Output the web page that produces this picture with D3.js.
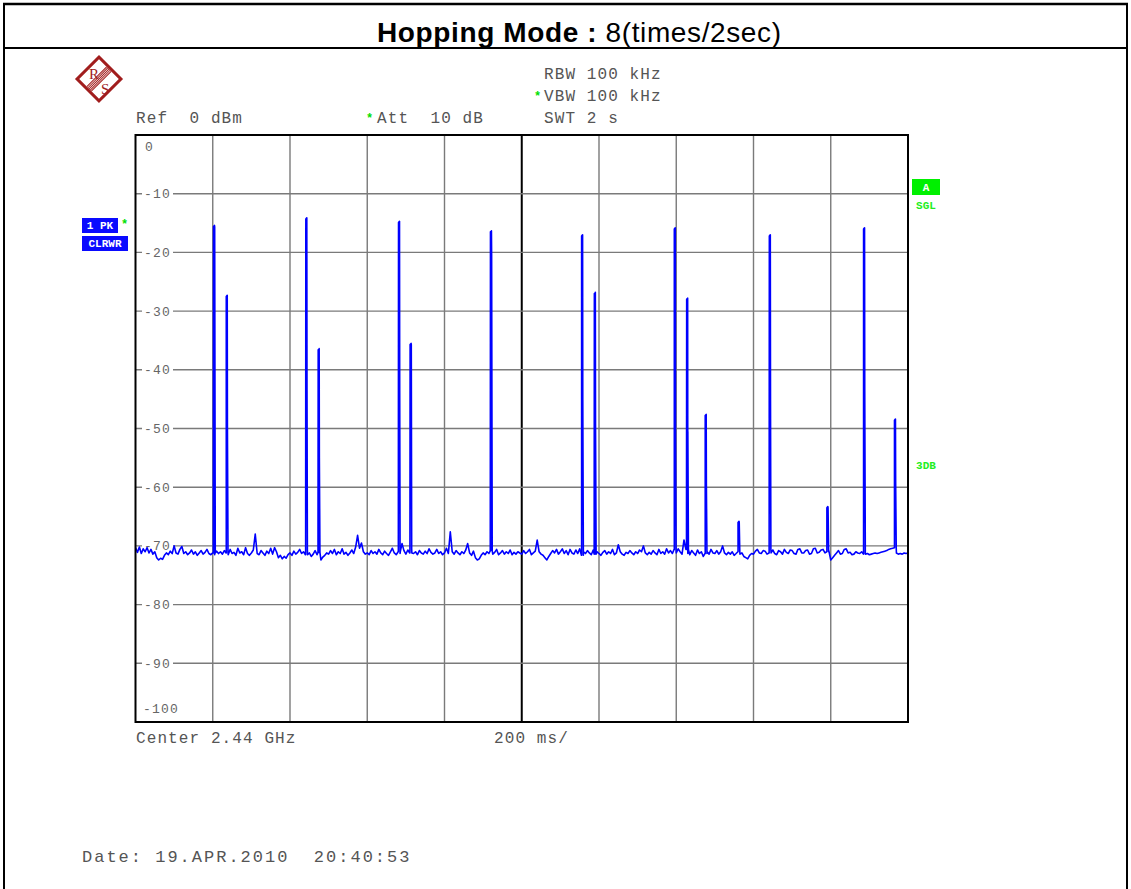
<!DOCTYPE html>
<html>
<head>
<meta charset="utf-8">
<script src="https://cdn.jsdelivr.net/npm/d3@7/dist/d3.min.js"></script>
<style>
body{margin:0;background:#fff;}
svg{display:block;}
</style>
</head>
<body>
<div id="chart"></div>
<script>
// sweep axis (ms) and level axis (dBm)
var sweepMs = [0, 2000];
var levelDb = [-100, 0];

// noise floor, one reading every 5 ms (one row = 100 ms)
var noiseStepMs = 5;
var noiseDb = [
    -70.3, -71.1, -70.2, -71.3, -70.5, -71.0, -70.3, -71.2, -70.6, -71.4, -71.0, -72.0, -72.4, -72.1, -72.3, -71.6, -71.2, -71.5, -70.9, -71.3,
    -70.0, -71.2, -71.4, -70.6, -70.1, -71.3, -71.0, -71.5, -71.2, -70.7, -71.4, -71.0, -71.6, -71.2, -70.8, -71.4, -71.1, -70.6, -71.3, -71.5,
    -71.2, -71.5, -70.9, -71.3, -71.0, -71.4, -70.8, -71.2, -71.5, -70.6, -71.3, -71.1, -71.6, -70.4, -71.2, -71.0, -71.5, -70.3, -71.3, -71.6,
    -71.2, -70.7, -68.0, -71.3, -71.5, -70.8, -71.2, -71.6, -70.9, -71.3, -70.4, -71.4, -70.3, -71.0, -72.0, -71.6, -72.2, -71.8, -72.1, -71.5,
    -71.2, -71.6, -70.9, -71.4, -71.1, -70.6, -71.3, -71.0, -71.5, -70.7, -71.2, -71.8, -71.4, -70.8, -71.5, -71.1, -72.4, -71.9, -71.6, -71.2,
    -71.4, -70.8, -71.3, -70.6, -71.5, -71.0, -71.3, -70.5, -71.4, -71.1, -71.6, -71.2, -70.7, -71.3, -70.2, -68.2, -70.4, -69.5, -71.0, -71.4,
    -71.2, -71.5, -70.8, -71.3, -71.0, -71.4, -70.6, -71.2, -71.5, -70.9, -71.3, -71.6, -71.0, -70.4, -71.2, -71.5, -71.0, -71.3, -69.6, -70.8,
    -71.4, -70.7, -71.2, -70.5, -71.3, -71.0, -71.5, -70.8, -71.2, -71.4, -70.9, -71.3, -70.5, -71.1, -71.4, -71.2, -70.6, -71.3, -71.0, -71.5,
    -71.2, -70.4, -71.3, -67.6, -71.0, -71.4, -70.8, -71.2, -71.5, -71.0, -71.3, -70.7, -69.6, -71.2, -71.6, -70.9, -72.0, -72.4, -72.2, -71.6,
    -71.2, -71.5, -71.0, -71.3, -70.8, -71.4, -71.1, -70.6, -71.5, -71.2, -70.8, -71.4, -71.0, -71.3, -70.7, -71.5, -71.1, -71.4, -71.0, -71.2,
    -71.4, -70.8, -71.3, -71.0, -70.6, -71.5, -71.2, -70.9, -69.0, -71.0, -71.4, -71.6, -72.0, -72.4, -71.8, -71.3, -70.8, -71.2, -70.6, -71.4,
    -71.0, -70.5, -71.3, -70.8, -71.5, -70.6, -71.2, -71.4, -70.7, -71.3, -70.5, -71.6, -71.0, -71.3, -70.8, -71.2, -71.5, -70.7, -71.4, -71.0,
    -71.3, -71.6, -71.1, -70.8, -71.4, -71.0, -71.3, -70.6, -71.5, -71.2, -69.8, -71.0, -71.4, -71.6, -71.1, -71.3, -70.8, -71.2, -71.5, -71.0,
    -71.3, -70.7, -71.0, -70.0, -71.2, -71.5, -71.1, -71.4, -70.8, -71.2, -71.5, -70.6, -71.3, -71.0, -71.4, -70.5, -71.2, -70.8, -71.3, -70.6,
    -71.2, -70.5, -71.0, -71.4, -69.0, -70.6, -71.3, -71.5, -70.8, -71.2, -71.6, -70.7, -71.3, -71.0, -71.8, -71.3, -71.0, -71.4, -70.6, -71.2,
    -71.3, -70.8, -71.4, -71.0, -70.0, -71.2, -71.5, -71.1, -71.4, -71.0, -71.6, -71.3, -71.0, -71.4, -71.2, -71.8, -72.0, -72.2, -71.6, -71.3,
    -71.4, -70.9, -70.6, -71.2, -71.3, -70.8, -70.9, -71.4, -71.2, -70.6, -70.7, -71.3, -71.5, -70.8, -71.0, -71.4, -70.6, -71.1, -71.3, -70.7,
    -70.8, -71.3, -71.4, -70.6, -70.5, -71.2, -71.2, -70.8, -70.7, -71.4, -71.3, -70.5, -70.4, -71.2, -71.1, -70.7, -70.6, -71.2, -71.0, -70.8,
    -72.4, -72.0, -71.6, -71.2, -70.8, -71.4, -71.3, -70.6, -70.5, -71.2, -71.1, -71.5, -71.4, -71.0, -71.2, -71.3, -71.0, -71.4, -71.4, -71.3,
    -71.5, -71.4, -71.3, -71.2, -71.3, -71.2, -71.1, -71.0, -70.9, -70.8, -70.6, -70.5, -70.4, -70.3, -71.2, -71.4, -71.3, -71.4, -71.2, -71.3,
    -71.2
];

// hop bursts: time, peak level, lower step level (null = none)
var hopTimeMs = [202, 235, 441, 473, 681, 711, 919, 1155, 1188, 1395, 1427, 1475, 1560, 1641, 1790, 1885, 1965];
var hopPeakDb = [-15.6, -27.5, -14.3, -36.6, -14.9, -35.7, -16.5, -17.2, -27.0, -16.0, -28.0, -47.8, -66.0, -17.2, -63.5, -16.0, -48.6];
var hopStepDb = [null, -50.0, -43.5, -55.0, -43.3, null, -20.4, -45.1, -49.2, -50.0, -50.5, -59.5, null, -45.0, null, -43.6, -59.0];

var titleBold = "Hopping Mode : ";
var titleRest = "8(times/2sec)";
var headerLeft = "Ref  0 dBm";
var headerMid = "Att  10 dB";
var headerRight = ["RBW 100 kHz", "VBW 100 kHz", "SWT 2 s"];
var footerLeft = "Center 2.44 GHz";
var footerMid = "200 ms/";
var dateText = "Date: 19.APR.2010  20:40:53";

var W = 1131, H = 889;
var mono = "'Courier New','Liberation Mono',monospace";
var plot = {l: 135.5, r: 908, t: 135, b: 722};

var svg = d3.select("#chart").append("svg")
    .attr("width", W).attr("height", H)
    .attr("xmlns", "http://www.w3.org/2000/svg");

// page frame + title row
var frame = svg.append("g").attr("stroke", "#000").attr("stroke-width", 2);
frame.append("line").attr("x1", 3).attr("x2", 1128).attr("y1", 4).attr("y2", 4).attr("stroke-width", 2.5);
frame.append("line").attr("x1", 3).attr("x2", 1128).attr("y1", 48).attr("y2", 48);
frame.append("line").attr("x1", 4).attr("x2", 4).attr("y1", 3).attr("y2", H);
frame.append("line").attr("x1", 1127).attr("x2", 1127).attr("y1", 3).attr("y2", H);

var title = svg.append("text")
    .attr("x", 377).attr("y", 42)
    .attr("textLength", 404).attr("lengthAdjust", "spacing")
    .style("font-family", "'Liberation Sans',Arial,sans-serif")
    .style("font-size", "28px");
title.append("tspan").style("font-weight", "bold").text(titleBold);
title.append("tspan").text(titleRest);

// R&S logo
var logoRed = "#a11d1d";
var logo = svg.append("g").attr("transform", "translate(99,79)");
var logoSq = logo.append("g").attr("transform", "rotate(-45)");
logoSq.append("rect")
    .attr("x", -15.5).attr("y", -15.5).attr("width", 31).attr("height", 31)
    .attr("fill", "#fff").attr("stroke", logoRed).attr("stroke-width", 3);
[-3.2, -1.6, 0, 1.6, 3.2].forEach(function(o) {
    logoSq.append("line")
        .attr("x1", -14).attr("x2", 14).attr("y1", o).attr("y2", o)
        .attr("stroke", logoRed).attr("stroke-width", 1);
});
logo.append("text").attr("x", -10).attr("y", 0).text("R")
    .style("font-family", "'Liberation Serif',serif").style("font-size", "15px").attr("fill", logoRed);
logo.append("text").attr("x", 2).attr("y", 15).text("S")
    .style("font-family", "'Liberation Serif',serif").style("font-size", "15px").attr("fill", logoRed);

// instrument header text
function monoText(x, y, str, size, spacing) {
    return svg.append("text")
        .attr("x", x).attr("y", y)
        .attr("fill", "#555")
        .style("font-family", mono)
        .style("font-size", size + "px")
        .style("letter-spacing", spacing + "px")
        .style("white-space", "pre")
        .text(str);
}
function star(x, y) {
    svg.append("text").attr("x", x).attr("y", y).text("*")
        .attr("fill", "#00e000").style("font-family", mono).style("font-size", "12px").style("font-weight", "bold");
}

monoText(544, 79, headerRight[0], 16, 1.1);
monoText(544, 101, headerRight[1], 16, 1.1);
monoText(544, 123, headerRight[2], 16, 1.1);
star(534, 100);
monoText(136, 123, headerLeft, 16, 1.1);
monoText(377, 123, headerMid, 16, 1.1);
star(366, 122);

monoText(136, 743, footerLeft, 16, 1.1);
monoText(494, 743, footerMid, 16, 1.1);
monoText(82, 862, dateText, 17, 2.0);

// scales
var x = d3.scaleLinear().domain(sweepMs).range([plot.l, plot.r]);
var y = d3.scaleLinear().domain(levelDb).range([plot.b, plot.t]);

// grid
var grid = svg.append("g").attr("class", "grid");
grid.selectAll(".vgrid")
    .data(x.ticks(10).filter(function(d) { return d > sweepMs[0] && d < sweepMs[1]; }))
    .enter().append("line")
    .attr("x1", function(d) { return x(d); }).attr("x2", function(d) { return x(d); })
    .attr("y1", plot.t).attr("y2", plot.b)
    .attr("stroke", function(d) { return d === 1000 ? "#000" : "#7a7a7a"; })
    .attr("stroke-width", function(d) { return d === 1000 ? 2 : 1.4; });
grid.selectAll(".hgrid")
    .data(y.ticks(10).filter(function(d) { return d > levelDb[0] && d < levelDb[1]; }))
    .enter().append("line")
    .attr("x1", plot.l).attr("x2", plot.r)
    .attr("y1", function(d) { return y(d); }).attr("y2", function(d) { return y(d); })
    .attr("stroke", "#7a7a7a").attr("stroke-width", 1.4);

// level labels inside the grid
var yLab = svg.append("g").attr("class", "y-labels");
y.ticks(10).forEach(function(d) {
    if (d === 0) {
        yLab.append("text").attr("x", 145).attr("y", y(d) + 16).text("0")
            .attr("fill", "#666").style("font-family", mono).style("font-size", "13px");
    } else if (d === -100) {
        yLab.append("text").attr("x", 143).attr("y", y(d) - 9).text("-100")
            .attr("fill", "#666").style("font-family", mono).style("font-size", "13px").style("letter-spacing", "1.2px");
    } else {
        yLab.append("rect").attr("x", 142).attr("y", y(d) - 6).attr("width", 31).attr("height", 12).attr("fill", "#fff");
        yLab.append("text").attr("x", 144).attr("y", y(d) + 4.5).text(String(d))
            .attr("fill", "#666").style("font-family", mono).style("font-size", "13px").style("letter-spacing", "1.2px");
    }
});

// trace: noise floor + hop bursts
var trace = noiseDb.map(function(v, i) { return [i * noiseStepMs, v]; });
hopTimeMs.forEach(function(t, i) {
    var base = noiseDb[Math.round(t / noiseStepMs)];
    var step = hopStepDb[i] === null ? hopPeakDb[i] : hopStepDb[i];
    trace.push([t - 0.5, base], [t, hopPeakDb[i]], [t + 2.5, hopPeakDb[i] + 0.2], [t + 3, step], [t + 4.5, base]);
});
trace.sort(function(a, b) { return a[0] - b[0]; });

svg.append("clipPath").attr("id", "plotClip").append("rect")
    .attr("x", plot.l).attr("y", plot.t).attr("width", plot.r - plot.l).attr("height", plot.b - plot.t);

var line = d3.line()
    .x(function(d) { return x(d[0]); })
    .y(function(d) { return y(d[1]); });
svg.append("path")
    .datum(trace)
    .attr("clip-path", "url(#plotClip)")
    .attr("d", line)
    .attr("fill", "none")
    .attr("stroke", "#0000ff")
    .attr("stroke-width", 1.6)
    .attr("stroke-linejoin", "round");

// plot border
svg.append("rect")
    .attr("x", plot.l).attr("y", plot.t).attr("width", plot.r - plot.l).attr("height", plot.b - plot.t)
    .attr("fill", "none").attr("stroke", "#000").attr("stroke-width", 2);

// trace / sweep annotations
function tag(bx, by, bw, bh, fill, str, textFill) {
    svg.append("rect").attr("x", bx).attr("y", by).attr("width", bw).attr("height", bh).attr("fill", fill);
    svg.append("text").attr("x", bx + bw / 2).attr("y", by + bh - 4).text(str)
        .attr("text-anchor", "middle").attr("fill", textFill)
        .style("font-family", mono).style("font-size", "11px").style("font-weight", "bold")
        .style("white-space", "pre");
}
tag(82, 218, 36, 15, "#0a0aff", "1 PK", "#fff");
tag(82, 236, 46, 15, "#0a0aff", "CLRWR", "#fff");
star(121, 228);
tag(912, 179, 28, 16, "#00f000", "A", "#fff");
svg.append("text").attr("x", 926).attr("y", 209).text("SGL").attr("text-anchor", "middle")
    .attr("fill", "#22ee22").style("font-family", mono).style("font-size", "11px").style("font-weight", "bold");
svg.append("text").attr("x", 926).attr("y", 469).text("3DB").attr("text-anchor", "middle")
    .attr("fill", "#22ee22").style("font-family", mono).style("font-size", "11px").style("font-weight", "bold");
</script>
</body>
</html>
